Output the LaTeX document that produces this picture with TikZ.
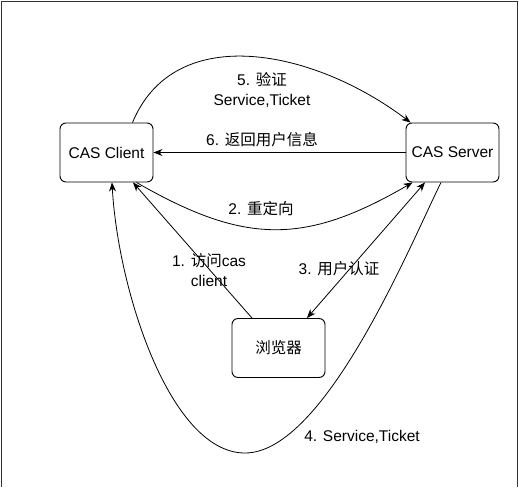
\documentclass[tikz,border=0pt]{standalone}
\usepackage{fontspec}
\setmainfont{Liberation Sans}
\newfontfamily\cjk{Noto Sans CJK SC}
\usetikzlibrary{arrows.meta}
\newcommand{\zh}[1]{{\cjk #1}}

\begin{document}
\begin{tikzpicture}[x=1pt, y=-1pt,
        >={Stealth[length=9pt, width=7pt]},
        every node/.style={font=\fontsize{15.5}{20}\selectfont},
        box/.style={draw, rounded corners=6pt, line width=0.9pt,
            minimum width=93pt, minimum height=59pt, inner sep=0pt},
        flow/.style={line width=0.8pt},
        lbl/.style={align=center, inner sep=1pt}]
        \useasboundingbox (0,0) rectangle (519,487);
        \draw[line width=0.8pt, black!80] (1.5,487) -- (1.5,1) -- (517.5,1) -- (517.5,487);

        \node[box] (client) at (106.5,152.5) {CAS Client};
        \node[box] (server) at (452.5,152.5) {CAS Server};
        \node[box] (browser) at (278.5,348) {\zh{浏览器}};

        \draw[flow, ->] ([xshift=-26.5pt]browser.north) -- ([xshift=26.5pt]client.south);
        \draw[flow, ->] ([xshift=30pt]client.south) .. controls (245,245) and (305,245) .. ([xshift=7pt]server.south west);
        \draw[flow, <->] ([xshift=-27.5pt]server.south) -- ([xshift=28.5pt]browser.north);
        \coordinate (dip) at (245,453);
        \draw[flow, ->] ([xshift=-11.5pt]server.south) .. controls (411,243) and (325,453) .. (dip)
            .. controls (170,453) and (118,290) .. ([xshift=5.5pt]client.south);
        \draw[flow, ->] ([xshift=26pt]client.north) .. controls (175,20) and (315,50) .. ([xshift=5pt]server.north west);
        \draw[flow, ->] (server.west) -- (client.east);

        \node[lbl] (lblvisit) at (209,270) {1. \zh{访问}cas\\client};
        \node[lbl] (lblredirect) at (261,209) {2. \zh{重定向}};
        \node[lbl] (lblauth) at (339,269) {3. \zh{用户认证}};
        \node[lbl] (lblticket) at (362,437) {4. Service,Ticket};
        \node[lbl] (lblverify) at (262,90) {5. \zh{验证}\\Service,Ticket};
        \node[lbl] (lblinfo) at (262,140) {6. \zh{返回用户信息}};

    \end{tikzpicture}
\end{document}
